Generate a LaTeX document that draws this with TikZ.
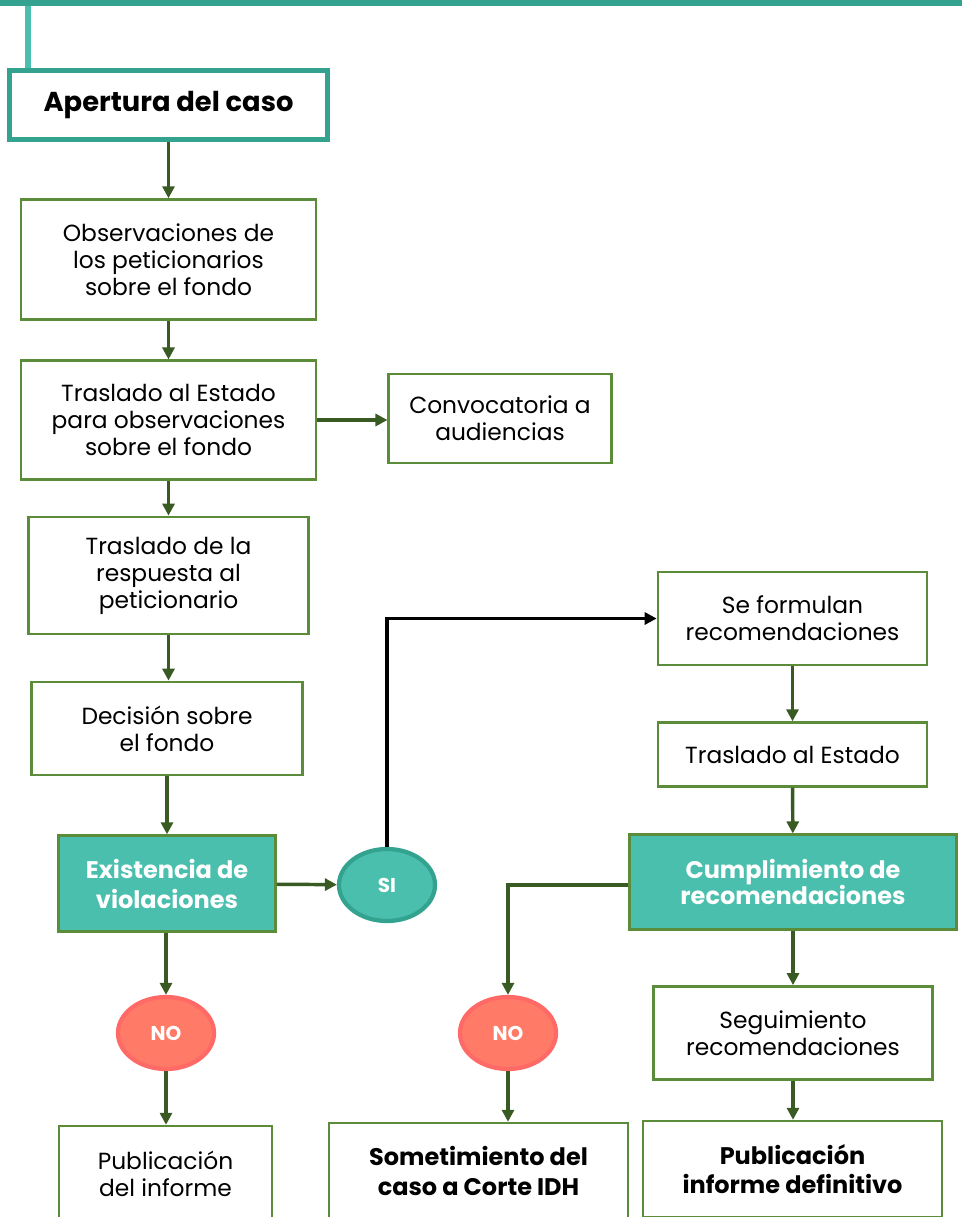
\documentclass[tikz,border=0pt]{standalone}
\usepackage{fontspec}
\setmainfont{Poppins}
\usepackage{tikz}
\usetikzlibrary{arrows.meta}
\usetikzlibrary{shapes.geometric}

\definecolor{tealfill}{HTML}{4BBFAD}
\definecolor{tealdark}{HTML}{33A38F}
\definecolor{boxgreen}{HTML}{5B8C3A}
\definecolor{arrowgreen}{HTML}{3A5A24}
\definecolor{coral}{HTML}{FF7B67}
\definecolor{coraldark}{HTML}{FF6A66}

\tikzset{
  box/.style={rectangle, draw=boxgreen, line width=1.8pt, align=center,
    font=\fontsize{17.5}{20.2}\selectfont},
  tealbox/.style={box, fill=tealfill, text=white,
    font=\fontsize{18}{22.5}\selectfont\bfseries},
  endbox/.style={box, font=\fontsize{18}{22}\selectfont\bfseries},
  yesnode/.style={ellipse, fill=tealfill, draw=tealdark, line width=3.2pt,
    minimum width=72pt, minimum height=54pt, text=white,
    font=\fontsize{15}{17}\selectfont\bfseries},
  nonode/.style={yesnode, fill=coral, draw=coraldark},
  arr/.style={-{Triangle[length=9pt,width=9pt]}, draw=arrowgreen, line width=2.6pt}
}

\begin{document}
\begin{tikzpicture}[x=0.75pt,y=-0.75pt]
\useasboundingbox (0,0) rectangle (962,1217);
\clip (0,0) rectangle (962,1217);
% top banner
\fill [tealdark] (0,0) rectangle (962,6);
\fill [tealfill] (25,6) rectangle (31,68);
\node [rectangle, draw=tealdark, line width=3.8pt, minimum width=239pt, minimum height=52pt,
  font=\fontsize{20.5}{24}\selectfont\bfseries] (AP) at (168.5,105) {Apertura del caso};

% left column
\node [box, minimum width=221pt, minimum height=90pt] (OB) at (168.5,259.5) {Observaciones de\\los peticionarios\\sobre el fondo};
\node [box, minimum width=221pt, minimum height=89pt] (TE) at (168.5,420) {Traslado al Estado\\para observaciones\\sobre el fondo};
\node [box, minimum width=167pt, minimum height=67pt] (CA) at (500,418.5) {Convocatoria a\\audiencias};
\node [box, minimum width=210pt, minimum height=88pt] (TR) at (168.5,575.5) {Traslado de la\\respuesta al\\peticionario};
\node [box, minimum width=203pt, minimum height=70pt] (DF) at (167,728.5) {Decisión sobre\\el fondo};
\node [tealbox, minimum width=163pt, minimum height=72pt] (EV) at (167,883.5) {Existencia de\\violaciones};
\node [yesnode] (SI) at (387,885) {SI};
\node [nonode] (N1) at (166,1033) {NO};
\node [box, minimum width=160pt, minimum height=72pt] (PI) at (165.5,1174) {Publicación\\del informe};

% right column
\node [box, minimum width=202pt, minimum height=70pt] (SF) at (792.5,618.5) {Se formulan\\recomendaciones};
\node [box, minimum width=202pt, minimum height=48pt] (TA) at (792.5,754.5) {Traslado al Estado};
\node [tealbox, minimum width=245pt, minimum height=71pt,
  font=\fontsize{18}{19}\selectfont\bfseries] (CR) at (793,882) {Cumplimiento de\\recomendaciones};
\node [nonode] (N2) at (508,1033) {NO};
\node [box, minimum width=209pt, minimum height=70pt] (SR) at (793,1033) {Seguimiento\\recomendaciones};
\node [endbox, minimum width=224pt, minimum height=72pt] (SC) at (478.5,1171) {Sometimiento del\\caso a Corte IDH};
\node [endbox, minimum width=224pt, minimum height=72pt] (PD) at (792.5,1169) {Publicación\\informe definitivo};

% connectors
\draw [arr] (AP) to (OB);
\draw [arr] (OB) to (TE);
\draw [arr] (TE.east) to (TE.east -| CA.west);
\draw [arr] (TE) to (TR);
\draw [arr] (TR.south) to (TR.south |- DF.north);
\draw [arr] (DF) to (EV);
\draw [arr] (EV) to (SI);
\draw [-{Triangle[length=9pt,width=9pt]}, draw=black, line width=2.6pt] (SI.north) |- (SF.west);
\draw [arr] (SF) to (TA);
\draw [arr] (TA) to (CR);
\draw [arr] (CR.west |- 0,885) -| (N2.north);
\draw [arr] (EV.south -| N1) to (N1);
\draw [arr] (N1) to (N1 |- PI.north);
\draw [arr] (N2.south) to (N2.south |- SC.north);
\draw [arr] (CR) to (SR);
\draw [arr] (SR) to (SR.south |- PD.north);
\end{tikzpicture}
\end{document}
